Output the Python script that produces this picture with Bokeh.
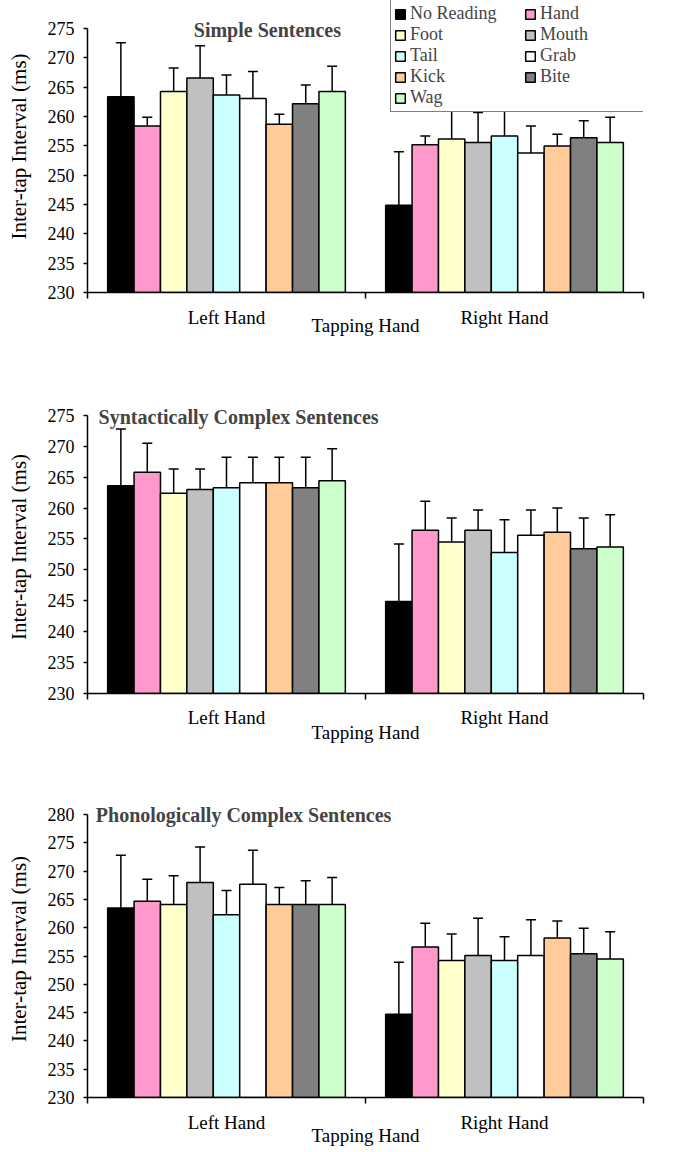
import numpy as np
from bokeh.embed import file_html
from bokeh.layouts import column
from bokeh.models import (ColumnDataSource, FixedTicker, Label, Legend, LegendItem,
                          Range1d, TeeHead, Whisker)
from bokeh.plotting import figure
from bokeh.resources import INLINE

hands = ["Left Hand", "Right Hand"]
conditions = ["No Reading", "Hand", "Foot", "Mouth", "Tail", "Grab", "Kick", "Bite", "Wag"]
colors = ["#000000", "#FF99CC", "#FFFFCC", "#C0C0C0", "#CCFFFF",
          "#FFFFFF", "#FFCC99", "#808080", "#CCFFCC"]

# mean inter-tap interval (ms) and upper error bar size, per condition
simple_left = [263.4, 258.4, 264.3, 266.6, 263.7, 263.1, 258.7, 262.2, 264.3]
simple_left_err = [9.2, 1.5, 4.0, 5.5, 3.4, 4.6, 1.7, 3.2, 4.3]
simple_right = [244.9, 255.2, 256.2, 255.6, 256.7, 253.8, 255.0, 256.4, 255.6]
simple_right_err = [9.1, 1.5, 4.8, 5.1, 4.3, 4.6, 2.0, 2.9, 4.3]

syntax_left = [263.6, 265.8, 262.4, 263.0, 263.3, 264.1, 264.1, 263.3, 264.4]
syntax_left_err = [9.2, 4.7, 3.9, 3.3, 4.9, 4.1, 4.1, 4.9, 5.2]
syntax_right = [244.9, 256.4, 254.5, 256.4, 252.8, 255.6, 256.1, 253.4, 253.7]
syntax_right_err = [9.3, 4.7, 3.9, 3.3, 5.3, 4.1, 3.9, 5.0, 5.2]

phono_left = [263.5, 264.7, 264.1, 268.0, 262.3, 267.7, 264.1, 264.1, 264.1]
phono_left_err = [9.3, 3.9, 5.1, 6.3, 4.3, 6.0, 3.0, 4.2, 4.8]
phono_right = [244.7, 256.6, 254.2, 255.1, 254.2, 255.1, 258.2, 255.4, 254.5]
phono_right_err = [9.2, 4.2, 4.7, 6.6, 4.2, 6.3, 3.0, 4.5, 4.8]

FONT = "Liberation Serif"
BAR_W = 0.095


def panel(title, left, left_err, right, right_err, y_top, y_view, height,
          top_b, bottom_b, title_pos, title_align, tick_standoff, xlabel_standoff,
          with_legend=False):
    p = figure(width=663, height=height, output_backend="svg", toolbar_location=None,
               x_range=Range1d(0, len(hands)), y_range=Range1d(230, y_view),
               min_border_top=top_b, min_border_right=20,
               min_border_bottom=bottom_b, min_border_left=87)
    p.grid.grid_line_color = None
    p.outline_line_color = None

    renderers = []
    wx, wlo, whi = [], [], []
    for i, (cond, col) in enumerate(zip(conditions, colors)):
        offset = (i - (len(conditions) - 1) / 2) * BAR_W
        xs = np.arange(len(hands)) + 0.5 + offset
        tops = [left[i], right[i]]
        src = ColumnDataSource(dict(x=xs, top=tops))
        r = p.vbar(x="x", top="top", bottom=230, width=BAR_W, source=src,
                   fill_color=col, line_color="black", line_width=1.5)
        renderers.append(r)
        wx += list(xs)
        wlo += tops
        whi += [left[i] + left_err[i], right[i] + right_err[i]]

    wsrc = ColumnDataSource(dict(base=wx, lower=wlo, upper=whi))
    p.add_layout(Whisker(source=wsrc, base="base", lower="lower", upper="upper",
                         dimension="height", line_width=1.5, line_color="black",
                         lower_head=None,
                         upper_head=TeeHead(size=10, line_width=1.5, line_color="black")))

    xa = p.xaxis[0]
    xa.bounds = (0, len(hands))
    xa.ticker = FixedTicker(ticks=[0.5, 1.5], minor_ticks=[0, 1, 2])
    xa.major_label_overrides = {0.5: hands[0], 1.5: hands[1]}
    xa.major_tick_out = 0
    xa.major_tick_in = 0
    xa.minor_tick_out = 6
    xa.minor_tick_in = 0
    xa.major_label_standoff = tick_standoff
    xa.axis_label = "Tapping Hand"
    xa.axis_label_standoff = xlabel_standoff
    xa.axis_label_text_font_style = "normal"

    ya = p.yaxis[0]
    ya.bounds = (230, y_top)
    ya.ticker = FixedTicker(ticks=list(range(230, y_top + 1, 5)))
    ya.major_tick_out = 4
    ya.major_tick_in = 0
    ya.minor_tick_out = 0
    ya.minor_tick_in = 0
    ya.major_label_standoff = 9
    ya.axis_label = "Inter-tap Interval (ms)"
    ya.axis_label_standoff = 14
    ya.axis_label_text_font_style = "normal"

    for ax in (xa, ya):
        ax.axis_line_width = 1.5
        ax.axis_line_color = "black"
        ax.major_tick_line_width = 1.5
        ax.minor_tick_line_width = 1.5
        ax.major_tick_line_color = "black"
        ax.minor_tick_line_color = "black"
        ax.major_label_text_font = FONT
        ax.major_label_text_color = "black"
        ax.axis_label_text_font = FONT
        ax.axis_label_text_color = "black"
    xa.major_label_text_font_size = "19px"
    ya.major_label_text_font_size = "18px"
    xa.axis_label_text_font_size = "19px"
    ya.axis_label_text_font_size = "21px"

    p.add_layout(Label(x=title_pos[0], y=title_pos[1], text=title, text_font=FONT,
                       text_font_style="bold", text_font_size="20px",
                       text_align=title_align, text_baseline="middle"))

    if with_legend:
        items = [LegendItem(label=c, renderers=[r]) for c, r in zip(conditions, renderers)]
        legend = Legend(items=items, ncols=2, orientation="horizontal", location=(303, 180),
                        label_text_font=FONT, label_text_font_size="18px",
                        glyph_width=12, glyph_height=12, label_width=114, label_height=16,
                        label_standoff=4, spacing=0, padding=3, margin=0,
                        border_line_color="black", border_line_width=1.5,
                        background_fill_alpha=1.0)
        p.add_layout(legend)
    return p


p1 = panel("Simple Sentences", simple_left, simple_left_err, simple_right, simple_right_err,
           275, 279.8, 386, 0, 94, (0.647, 274.8), "center", 8, -16, with_legend=True)
p2 = panel("Syntactically Complex Sentences", syntax_left, syntax_left_err,
           syntax_right, syntax_right_err,
           275, 277.4, 397, 14, 90, (0.04, 274.8), "left", 7, -9)
p3 = panel("Phonologically Complex Sentences", phono_left, phono_left_err,
           phono_right, phono_right_err,
           280, 282.5, 365, 17, 50, (0.03, 280), "left", 8, -11)

p = column(p1, p2, p3)
open("out.html", "w").write(file_html(p, INLINE))
